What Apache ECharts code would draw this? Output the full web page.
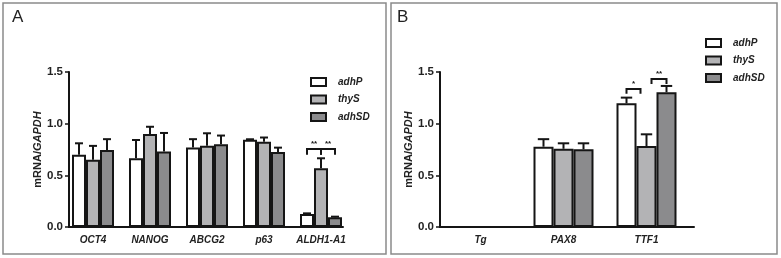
<!DOCTYPE html>
<html><head><meta charset="utf-8">
<script src="https://cdn.jsdelivr.net/npm/echarts@6/dist/echarts.min.js"></script>
<style>html,body{margin:0;padding:0;background:#fff}#c{width:781px;height:258px}</style>
</head><body><div id="c"></div>
<script>
// ---------- data ----------
const seriesNames = ['adhP', 'thyS', 'adhSD'];
const categoriesA = ['OCT4', 'NANOG', 'ABCG2', 'p63', 'ALDH1-A1'];
const adhP_A  = [0.70, 0.665, 0.77, 0.845, 0.126];
const thyS_A  = [0.65, 0.90, 0.787, 0.826, 0.568];
const adhSD_A = [0.745, 0.73, 0.80, 0.726, 0.094];
const adhP_A_sem  = [0.11, 0.177, 0.08, 0.004, 0.006];
const thyS_A_sem  = [0.135, 0.07, 0.12, 0.04, 0.097];
const adhSD_A_sem = [0.105, 0.18, 0.085, 0.042, 0.006];

const categoriesB = ['Tg', 'PAX8', 'TTF1'];
const adhP_B  = [0, 0.777, 1.197];
const thyS_B  = [0, 0.757, 0.784];
const adhSD_B = [0, 0.752, 1.304];
const adhP_B_sem  = [0, 0.073, 0.055];
const thyS_B_sem  = [0, 0.053, 0.113];
const adhSD_B_sem = [0, 0.058, 0.061];

// significance brackets: [category, from bar, to bar, bracket level, leg end]
const sigA = [[4, 0, 1, 0.755, 0.70], [4, 1, 2, 0.755, 0.70]];
const sigA_text = ['**', '**'];
const sigB = [[2, 0, 0.7, 1.336, 1.29], [2, 1.25, 2, 1.433, 1.385]];
const sigB_text = ['*', '**'];

const yTicks = [0, 0.5, 1.0, 1.5];

// ---------- styles ----------
const colors = ['#ffffff', '#b3b3b5', '#8b8b8d'];
const ink = '#151515';

function errData(means, sems) {
  const out = [];
  means.forEach((m, k) => m.forEach((v, i) => out.push([i, k, v, sems[k][i]])));
  return out;
}
function errRender(barW) {
  return function (params, api) {
    const cat = api.value(0), k = api.value(1), v = api.value(2), s = api.value(3);
    if (!(s > 0)) return null;
    const base = api.coord([cat, v]);
    const top = api.coord([cat, v + s]);
    const x = base[0] + (k - 1) * barW;
    const cap = barW * 0.57;
    return { type: 'group', children: [
      { type: 'line', shape: { x1: x, y1: base[1], x2: x, y2: top[1] }, style: { stroke: ink, lineWidth: 2 } },
      { type: 'line', shape: { x1: x - cap / 2, y1: top[1], x2: x + cap / 2, y2: top[1] }, style: { stroke: ink, lineWidth: 2 } }
    ]};
  };
}
function sigRender(barW, texts) {
  return function (params, api) {
    const cat = api.value(0), a = api.value(1), b = api.value(2), lv = api.value(3), leg = api.value(4);
    const c = api.coord([cat, lv]);
    const l = api.coord([cat, leg]);
    const x1 = c[0] + (a - 1) * barW, x2 = c[0] + (b - 1) * barW;
    return { type: 'group', children: [
      { type: 'polyline', shape: { points: [[x1, l[1]], [x1, c[1]], [x2, c[1]], [x2, l[1]]] }, style: { stroke: ink, lineWidth: 2, fill: null } },
      { type: 'text', style: { text: texts[params.dataIndex], x: (x1 + x2) / 2, y: c[1] - 1, align: 'center', verticalAlign: 'bottom', font: 'bold 8px Arial, "Liberation Sans", sans-serif', fill: ink } }
    ]};
  };
}

const labelFont = { fontFamily: 'Arial, "Liberation Sans", sans-serif' };

function axisPair(gridIdx) {
  return {
    x: { gridIndex: gridIdx, type: 'value', min: 0, max: 1, axisLine: { show: true, lineStyle: { color: ink, width: 2 } },
         axisTick: { show: false }, axisLabel: { show: false }, splitLine: { show: false } },
    y: { gridIndex: gridIdx, type: 'value', min: 0, max: 1.5, interval: 0.5,
         axisLine: { show: true, lineStyle: { color: ink, width: 2 } },
         axisTick: { show: true, length: 4, lineStyle: { color: ink, width: 1.5 } },
         axisLabel: { margin: 6, formatter: v => yTicks.includes(v) ? v.toFixed(1) : '', color: '#222', fontSize: 11.5, fontWeight: 'bold', ...labelFont },
         splitLine: { show: false },
         name: '{a|mRNA/}{b|GAPDH}', nameLocation: 'middle', nameGap: 18,
         nameTextStyle: { rich: {
           a: { fontSize: 11, fontWeight: 'bold', color: '#222', ...labelFont },
           b: { fontSize: 11, fontWeight: 'bold', fontStyle: 'italic', color: '#222', ...labelFont } } } }
  };
}
function barAxes(gridIdx, cats) {
  return {
    x: { gridIndex: gridIdx, type: 'category', data: cats, axisLine: { show: false }, axisTick: { show: false },
         axisLabel: { interval: 0, margin: 8, color: '#222', fontSize: 10, fontWeight: 'bold', fontStyle: 'italic', ...labelFont } },
    y: { gridIndex: gridIdx, type: 'value', min: 0, max: 1.5, show: false, splitLine: { show: false } }
  };
}
const aA = axisPair(0), bA = barAxes(1, categoriesA), aB = axisPair(2), bB = barAxes(3, categoriesB);

function bars(xi, yi, vals, w) {
  return vals.map((v, k) => ({
    type: 'bar', name: seriesNames[k], xAxisIndex: xi, yAxisIndex: yi, data: v, barWidth: w, barGap: '0%',
    itemStyle: { color: colors[k], borderColor: ink, borderWidth: 2 }, silent: true, animation: false
  }));
}

const legendCommon = {
  orient: 'vertical', padding: 0, itemWidth: 15, itemHeight: 8, itemGap: 5.5, icon: 'rect', data: seriesNames,
  textStyle: { fontSize: 10, fontWeight: 'bold', fontStyle: 'italic', color: '#222', lineHeight: 12, padding: [0, 0, 0, 7], ...labelFont },
  itemStyle: { borderColor: ink, borderWidth: 2 }, selectedMode: false
};

const option = {
  animation: false,
  backgroundColor: '#fff',
  graphic: [
    { type: 'rect', shape: { x: 3, y: 3, width: 383, height: 251 }, style: { fill: 'none', stroke: '#8a8a8a', lineWidth: 1.5 } },
    { type: 'rect', shape: { x: 391, y: 3, width: 386, height: 251 }, style: { fill: 'none', stroke: '#8a8a8a', lineWidth: 1.5 } },
    { type: 'text', left: 12, top: 9, style: { text: 'A', font: '17px Arial, "Liberation Sans", sans-serif', fill: '#222' } },
    { type: 'text', left: 397, top: 9, style: { text: 'B', font: '17px Arial, "Liberation Sans", sans-serif', fill: '#222' } }
  ],
  legend: [
    { ...legendCommon, left: 310, top: 76 },
    { ...legendCommon, left: 705, top: 37 }
  ],
  grid: [
    { left: 69, top: 72, width: 274, height: 155 },
    { left: 64.5, top: 72, width: 285, height: 155 },
    { left: 440, top: 72, width: 254, height: 155 },
    { left: 439, top: 72, width: 249, height: 155 }
  ],
  xAxis: [aA.x, bA.x, aB.x, bB.x],
  yAxis: [aA.y, bA.y, aB.y, bB.y],
  series: [
    ...bars(1, 1, [adhP_A, thyS_A, adhSD_A], 14),
    ...bars(3, 3, [adhP_B, thyS_B, adhSD_B], 20),
    { type: 'custom', xAxisIndex: 1, yAxisIndex: 1, z: 5, silent: true,
      data: errData([adhP_A, thyS_A, adhSD_A], [adhP_A_sem, thyS_A_sem, adhSD_A_sem]),
      encode: { x: 0, y: 2 }, renderItem: errRender(14) },
    { type: 'custom', xAxisIndex: 3, yAxisIndex: 3, z: 5, silent: true,
      data: errData([adhP_B, thyS_B, adhSD_B], [adhP_B_sem, thyS_B_sem, adhSD_B_sem]),
      encode: { x: 0, y: 2 }, renderItem: errRender(20) },
    { type: 'custom', xAxisIndex: 1, yAxisIndex: 1, z: 5, silent: true, data: sigA,
      encode: { x: 0, y: 3 }, renderItem: sigRender(14, sigA_text) },
    { type: 'custom', xAxisIndex: 3, yAxisIndex: 3, z: 5, silent: true, data: sigB,
      encode: { x: 0, y: 3 }, renderItem: sigRender(20, sigB_text) }
  ]
};
const chart = echarts.init(document.getElementById('c'), null, { renderer: 'canvas' });
chart.setOption(option);
</script></body></html>
